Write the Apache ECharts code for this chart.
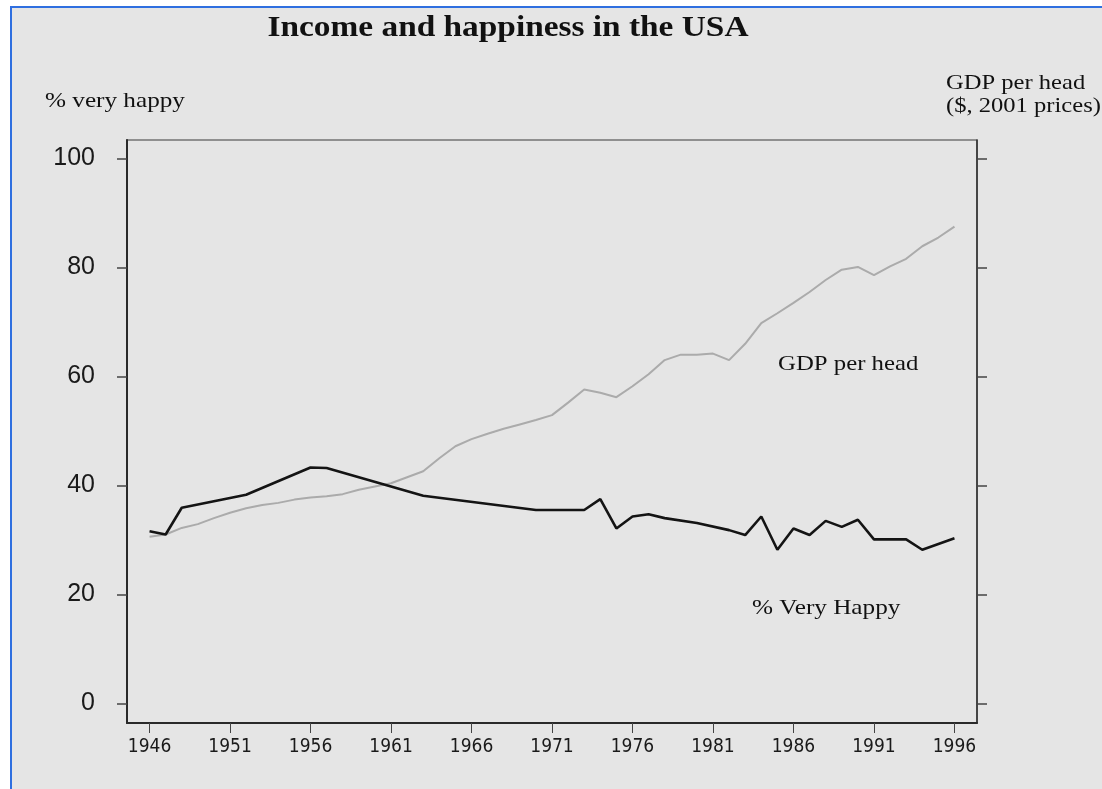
<!DOCTYPE html>
<html>
<head>
<meta charset="utf-8">
<script src="https://cdn.jsdelivr.net/npm/echarts@6/dist/echarts.min.js"></script>
<style>
  html, body { margin: 0; padding: 0; background: #ffffff; }
  #chart { position: absolute; left: 0; top: 0; width: 1102px; height: 789px; }
  .ov { position: absolute; pointer-events: none; }
</style>
</head>
<body>
<div id="chart"></div>
<div class="ov" style="left:0;top:0;width:1102px;height:6px;background:#ffffff;"></div>
<div class="ov" style="left:0;top:0;width:10px;height:789px;background:#ffffff;"></div>
<div class="ov" style="left:10px;top:6px;width:1092px;height:2px;background:#2f6fe0;"></div>
<div class="ov" style="left:10px;top:6px;width:2px;height:783px;background:#2f6fe0;"></div>
<script>
// ---- data ----
const yearTicks = [1946, 1951, 1956, 1961, 1966, 1971, 1976, 1981, 1986, 1991, 1996];
const yTicks = [0, 20, 40, 60, 80, 100];

const gdpYears = [1946,1947,1948,1949,1950,1951,1952,1953,1954,1955,1956,1957,1958,1959,1960,
  1961,1962,1963,1964,1965,1966,1967,1968,1969,1970,1971,1972,1973,1974,1975,1976,1977,1978,1979,
  1980,1981,1982,1983,1984,1985,1986,1987,1988,1989,1990,1991,1992,1993,1994,1995,1996];
const gdpValues = [30.6,31.0,32.2,32.9,34.0,35.0,35.8,36.4,36.8,37.4,37.8,38.0,38.4,39.2,39.8,
  40.4,41.5,42.6,45.0,47.2,48.5,49.5,50.4,51.2,52.0,52.9,55.2,57.6,57.0,56.2,58.2,60.4,63.0,64.0,
  64.0,64.2,63.0,66.0,69.8,71.6,73.5,75.5,77.7,79.6,80.1,78.6,80.2,81.6,83.9,85.5,87.5];

const happyYears = [1946,1947,1948,1952,1956,1957,1963,1970,1972,1973,1974,1975,1976,1977,1978,
  1980,1982,1983,1984,1985,1986,1987,1988,1989,1990,1991,1993,1994,1996];
const happyValues = [31.6,31.0,35.9,38.3,43.3,43.2,38.1,35.5,35.5,35.5,37.5,32.1,34.3,34.7,34.0,
  33.1,31.8,30.9,34.3,28.2,32.1,30.9,33.5,32.4,33.7,30.1,30.1,28.2,30.3];

const gdpData = gdpYears.map((y, i) => [y, gdpValues[i]]);
const happyData = happyYears.map((y, i) => [y, happyValues[i]]);

const chart = echarts.init(document.getElementById('chart'));
const serif = '"Liberation Serif", "Times New Roman", serif';
const sans = '"Liberation Sans", Arial, sans-serif';
const narrow = '"Liberation Sans Narrow", "DejaVu Sans Condensed", "Liberation Sans", sans-serif';

const option = {
  backgroundColor: '#e5e5e5',
  animation: false,
  grid: { left: 127, right: 125, top: 140, bottom: 66, show: true, borderColor: '#3a3a3a', borderWidth: 1.2, backgroundColor: 'transparent' },
  xAxis: {
    type: 'value', min: 1944.6, max: 1997.4,
    splitLine: { show: false },
    axisLine: { show: true, onZero: false, lineStyle: { color: '#2a2a2a', width: 2 } },
    axisTick: { show: true, length: 10, customValues: yearTicks, lineStyle: { color: '#444', width: 1 } },
    axisLabel: { customValues: yearTicks, margin: 15, color: '#1a1a1a', fontFamily: narrow, fontSize: 19, formatter: v => String(v) }
  },
  yAxis: [{
    type: 'value', min: -3.6, max: 103.4, position: 'left',
    splitLine: { show: false },
    axisLine: { show: true, onZero: false, lineStyle: { color: '#2a2a2a', width: 2 } },
    axisTick: { show: true, length: 10, customValues: yTicks, lineStyle: { color: '#444', width: 1.5 } },
    axisLabel: { customValues: yTicks, margin: 32, color: '#1a1a1a', fontFamily: sans, fontSize: 25 }
  }, {
    type: 'value', min: -3.6, max: 103.4, position: 'right',
    splitLine: { show: false },
    axisLine: { show: true, onZero: false, lineStyle: { color: '#333', width: 1.5 } },
    axisTick: { show: true, length: 10, customValues: yTicks, lineStyle: { color: '#444', width: 1.5 } },
    axisLabel: { show: false }
  }],
  series: [{
    name: 'GDP per head', type: 'line', data: gdpData, showSymbol: false,
    lineStyle: { color: '#ababab', width: 2 }, z: 2
  }, {
    name: '% Very Happy', type: 'line', data: happyData, showSymbol: false,
    lineStyle: { color: '#141414', width: 2.6 }, z: 3
  }],
  graphic: [
    { type: 'text', x: 508, y: 29, scaleX: 1.15, style: { text: 'Income and happiness in the USA', font: 'bold 29px ' + serif, fill: '#111', textAlign: 'center', textVerticalAlign: 'middle' } },
    { type: 'text', x: 45, y: 101, scaleX: 1.2, style: { text: '% very happy', font: '21px ' + serif, fill: '#111', textVerticalAlign: 'middle' } },
    { type: 'text', x: 946, y: 83, scaleX: 1.17, style: { text: 'GDP per head', font: '21px ' + serif, fill: '#111', textVerticalAlign: 'middle' } },
    { type: 'text', x: 946, y: 106, scaleX: 1.17, style: { text: '($, 2001 prices)', font: '21px ' + serif, fill: '#111', textVerticalAlign: 'middle' } },
    { type: 'text', x: 778, y: 364, scaleX: 1.18, style: { text: 'GDP per head', font: '21px ' + serif, fill: '#111', textVerticalAlign: 'middle' } },
    { type: 'text', x: 752, y: 608, scaleX: 1.2, style: { text: '% Very Happy', font: '21px ' + serif, fill: '#111', textVerticalAlign: 'middle' } }
  ]
};
chart.setOption(option);
</script>
</body>
</html>
